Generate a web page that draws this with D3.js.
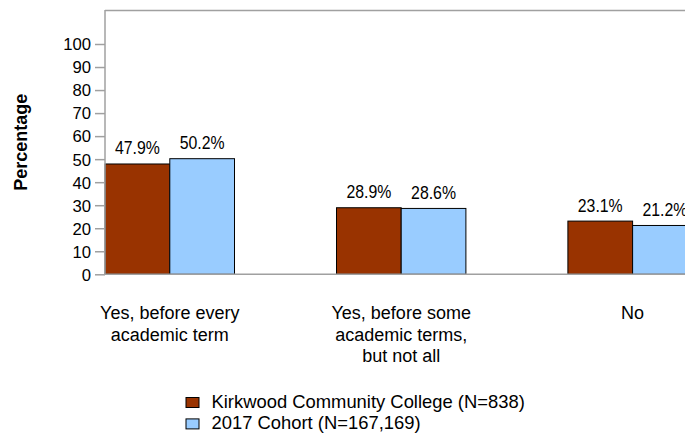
<!DOCTYPE html>
<html>
<head>
<meta charset="utf-8">
<script src="https://cdn.jsdelivr.net/npm/d3@7"></script>
<style>
  html, body { margin: 0; padding: 0; background: #fff; }
  svg { display: block; font-family: "Liberation Sans", Arial, sans-serif; }
</style>
</head>
<body>
<svg id="chart" width="685" height="433"></svg>
<script>
const categories = [
  ["Yes, before every", "academic term"],
  ["Yes, before some", "academic terms,", "but not all"],
  ["No"]
];
const categoryKeys = ["every", "some", "no"];
const seriesNames = ["Kirkwood Community College (N=838)", "2017 Cohort (N=167,169)"];
const kirkwood = [47.9, 28.9, 23.1];
const cohort = [50.2, 28.6, 21.2];
const seriesValues = [kirkwood, cohort];
const seriesColors = ["#993300", "#99CCFF"];
const yTicks = [0, 10, 20, 30, 40, 50, 60, 70, 80, 90, 100];

const svg = d3.select("#chart");
const W = 685;
const plotLeft = 105, plotTop = 10, plotBottom = 274.3;

const y = d3.scaleLinear().domain([0, 100]).range([plotBottom, 44]);
const x = d3.scaleBand().domain(categoryKeys).range([54.1, 748.3]).paddingInner(0).paddingOuter(0);
const barW = 64.7;
const xs = d3.scaleBand().domain([0, 1]).range([x.bandwidth() / 2 - barW, x.bandwidth() / 2 + barW]);

// frame top
svg.append("line").attr("x1", plotLeft).attr("x2", W + 5).attr("y1", plotTop + 0.5).attr("y2", plotTop + 0.5)
  .attr("stroke", "#a0a0a0").attr("stroke-width", 1.5);

// bars
const groups = svg.append("g").selectAll("g").data(categoryKeys).join("g")
  .attr("transform", d => `translate(${x(d)},0)`);
groups.each(function(key, ci) {
  const g = d3.select(this);
  [0, 1].forEach(si => {
    const v = seriesValues[si][ci];
    g.append("rect")
      .attr("x", xs(si)).attr("y", y(v))
      .attr("width", xs.bandwidth()).attr("height", y(0) - y(v))
      .attr("fill", seriesColors[si]).attr("stroke", "#000").attr("stroke-width", 1);
    const cx = xs(si) + xs.bandwidth() / 2;
    g.append("text")
      .attr("transform", `translate(${cx},${y(v) - 9.5}) scale(0.88,1)`)
      .attr("text-anchor", "middle").attr("font-size", 18).attr("fill", "#000")
      .text(v.toFixed(1) + "%");
  });
  g.append("text").attr("text-anchor", "middle").attr("font-size", 18).attr("fill", "#000")
    .selectAll("tspan").data(categories[ci]).join("tspan")
    .attr("x", x.bandwidth() / 2).attr("y", (d, i) => 319 + i * 21.5)
    .text(d => d);
});

// y axis
const yAxis = svg.append("g").attr("transform", `translate(${plotLeft},0)`)
  .call(d3.axisLeft(y).tickValues(yTicks).tickSize(10).tickPadding(4).tickSizeOuter(0));
yAxis.select(".domain").remove();
yAxis.selectAll(".tick line").attr("stroke", "#a0a0a0").attr("stroke-width", 1.5);
yAxis.selectAll(".tick text").attr("font-size", 16.7).attr("fill", "#000")
  .attr("font-family", "Liberation Sans, Arial, sans-serif").attr("dy", "0.35em");
svg.append("line").attr("x1", plotLeft).attr("x2", plotLeft).attr("y1", plotTop).attr("y2", plotBottom)
  .attr("stroke", "#a0a0a0").attr("stroke-width", 1.5);
svg.append("line").attr("x1", plotLeft).attr("x2", W + 5).attr("y1", plotBottom).attr("y2", plotBottom)
  .attr("stroke", "#a0a0a0").attr("stroke-width", 1.5);

// y title
svg.append("text").attr("transform", `translate(27,${(plotTop + plotBottom) / 2}) rotate(-90)`)
  .attr("text-anchor", "middle").attr("font-size", 18).attr("font-weight", "bold").text("Percentage");

// legend
const legend = svg.append("g").selectAll("g").data(seriesNames).join("g")
  .attr("transform", (d, i) => `translate(186,${397.5 + i * 21.4})`);
legend.append("rect").attr("width", 13).attr("height", 10)
  .attr("fill", (d, i) => seriesColors[i]).attr("stroke", "#000").attr("stroke-width", 1);
legend.append("text").attr("x", 25.5).attr("y", 10).attr("font-size", 18.4).text(d => d);
</script>
</body>
</html>
